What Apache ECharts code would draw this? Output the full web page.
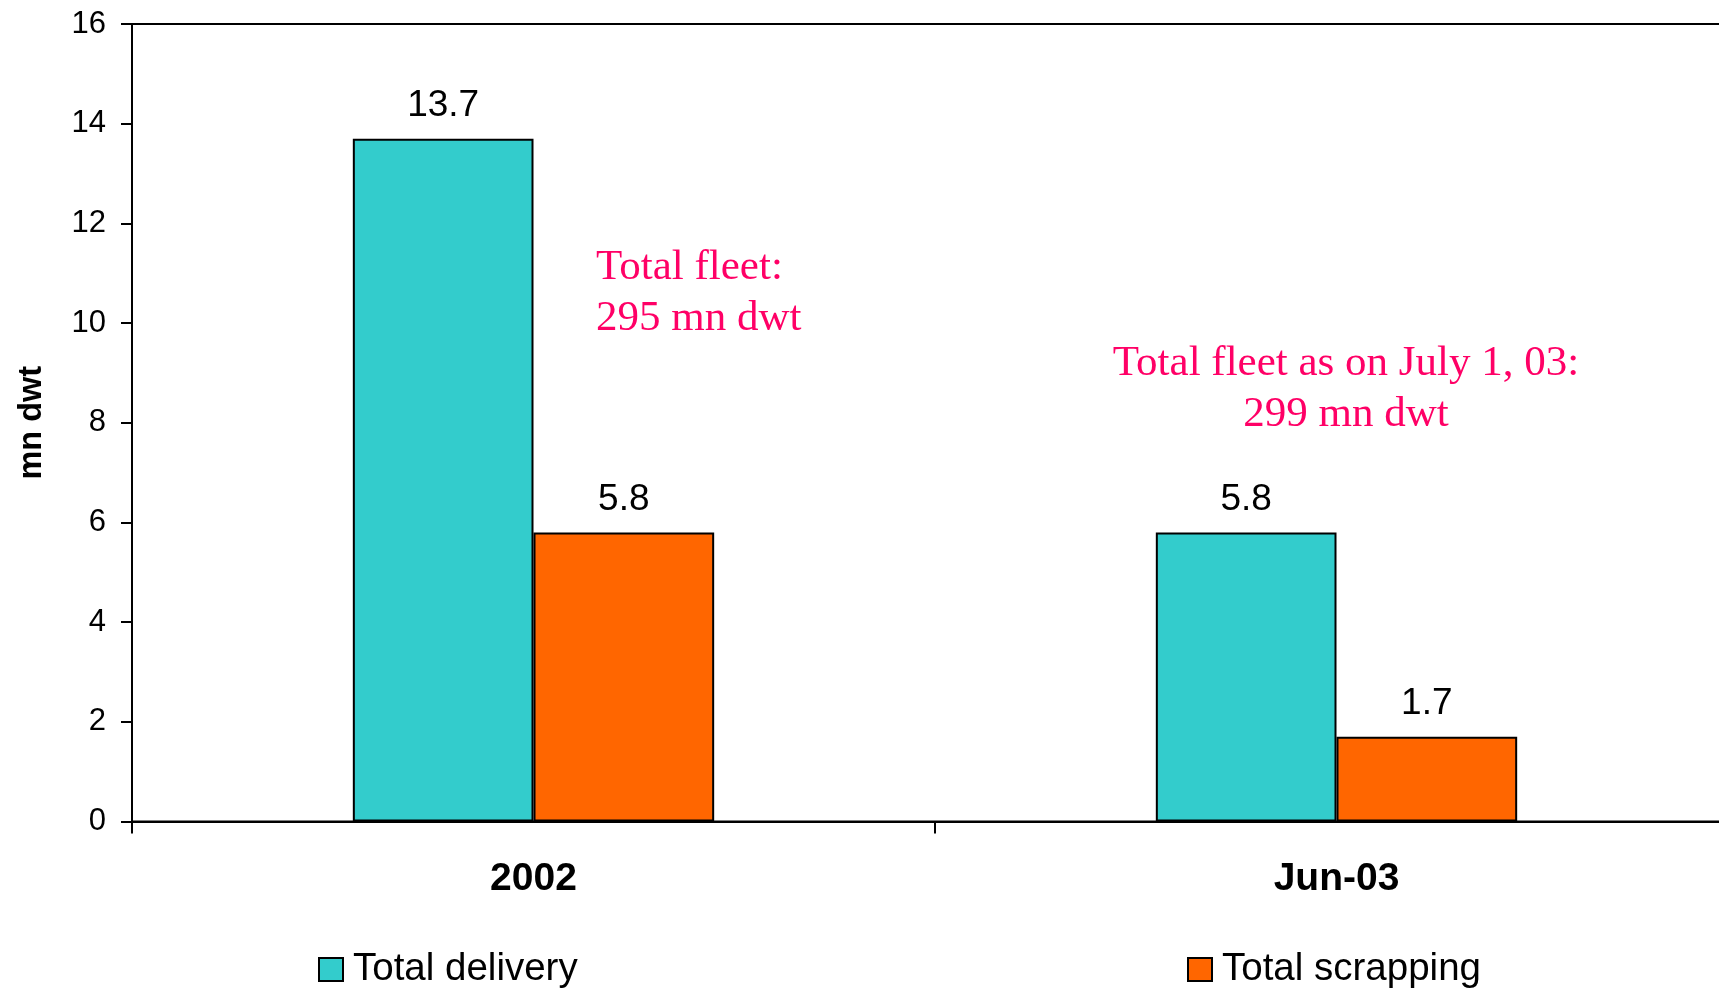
<!DOCTYPE html>
<html>
<head>
<meta charset="utf-8">
<script src="https://cdn.jsdelivr.net/npm/echarts@6/dist/echarts.min.js"></script>
<style>
  html, body { margin: 0; padding: 0; background: #fff; }
  #chart { width: 1719px; height: 990px; }
</style>
</head>
<body>
<div id="chart"></div>
<script>
// Fleet additions and removals, million dwt
const categories = ['2002', 'Jun-03'];
const deliveryValues = [13.7, 5.8];
const scrappingValues = [5.8, 1.7];
const seriesNames = ['Total delivery', 'Total scrapping'];
const yTicks = { min: 0, max: 16, interval: 2 };
const fleetNotes = [
  'Total fleet:\n295 mn dwt',
  'Total fleet as on July 1, 03:\n299 mn dwt'
];

const SANS = '"Liberation Sans", Arial, sans-serif';
const SERIF = '"Liberation Serif", "Times New Roman", serif';
const TEAL = '#33CCCC';
const ORANGE = '#FF6600';
const NOTE = '#FF0066';

const chart = echarts.init(document.getElementById('chart'), null, { renderer: 'canvas' });

const barLabel = {
  show: true,
  position: 'top',
  distance: 14,
  color: '#000',
  fontFamily: SANS,
  fontSize: 37
};

function legendFor(name, left, size) {
  return {
    data: [name],
    left: left,
    top: 950,
    padding: 0,
    icon: 'rect',
    itemWidth: 24,
    itemHeight: 23,
    itemStyle: { borderColor: '#000', borderWidth: 2 },
    textStyle: {
      color: '#000',
      fontFamily: SANS,
      fontSize: size,
      padding: [0, 0, 0, 5]
    }
  };
}

chart.setOption({
  backgroundColor: '#fff',
  animation: false,
  grid: {
    left: 132,
    top: 24,
    right: -19,
    height: 797.5,
    outerBoundsMode: 'none',
    containLabel: false,
    show: true,
    borderColor: '#000',
    borderWidth: 2,
    backgroundColor: 'transparent'
  },
  legend: [
    legendFor(seriesNames[0], 318, 38.5),
    legendFor(seriesNames[1], 1187, 38.5)
  ],
  xAxis: {
    type: 'category',
    data: categories,
    boundaryGap: true,
    axisLine: { lineStyle: { color: '#000', width: 2 } },
    axisTick: { show: true, length: 12, lineStyle: { color: '#000', width: 2 } },
    axisLabel: {
      margin: 38,
      color: '#000',
      fontFamily: SANS,
      fontSize: 39,
      fontWeight: 'bold'
    },
    splitLine: { show: false }
  },
  yAxis: {
    type: 'value',
    min: yTicks.min,
    max: yTicks.max,
    interval: yTicks.interval,
    name: 'mn dwt',
    nameLocation: 'middle',
    nameGap: 83,
    nameTextStyle: {
      color: '#000',
      fontFamily: SANS,
      fontSize: 32.5,
      fontWeight: 'bold'
    },
    axisLine: { show: true, lineStyle: { color: '#000', width: 2 } },
    axisTick: { show: true, length: 11, lineStyle: { color: '#000', width: 2 } },
    axisLabel: {
      margin: 26,
      color: '#000',
      fontFamily: SANS,
      fontSize: 31
    },
    splitLine: { show: false }
  },
  series: [
    {
      name: seriesNames[0],
      type: 'bar',
      data: deliveryValues,
      barWidth: '22.5%',
      barGap: '0%',
      itemStyle: { color: TEAL, borderColor: '#000', borderWidth: 2 },
      label: barLabel
    },
    {
      name: seriesNames[1],
      type: 'bar',
      data: scrappingValues,
      barWidth: '22.5%',
      barGap: '0%',
      itemStyle: { color: ORANGE, borderColor: '#000', borderWidth: 2 },
      label: barLabel
    }
  ],
  graphic: [
    {
      type: 'text',
      left: 596,
      top: 242,
      style: {
        text: fleetNotes[0],
        font: '43px ' + SERIF,
        fill: NOTE,
        lineHeight: 51,
        align: 'left'
      }
    },
    {
      type: 'text',
      x: 1346,
      y: 338,
      style: {
        text: fleetNotes[1],
        font: '43px ' + SERIF,
        fill: NOTE,
        lineHeight: 51,
        align: 'center',
        verticalAlign: 'top'
      }
    }
  ]
});
</script>
</body>
</html>
